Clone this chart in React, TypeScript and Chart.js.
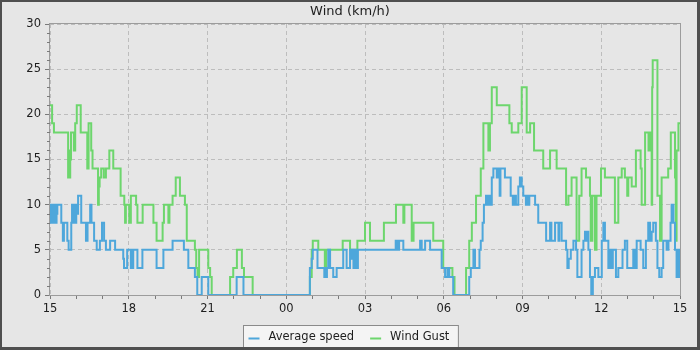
import React, { useEffect, useRef } from 'react';
import { Chart, registerables } from 'chart.js';

Chart.register(...registerables);

// Hours after 15:00 at which the value changes -> [hour, km/h]
const averageSpeedSteps: [number, number][] = [
  [0, 10], [0.03, 8], [0.06, 10], [0.09, 8], [0.12, 10], [0.15, 8], [0.19, 10], [0.22, 8], [0.25, 9], [0.28, 10],
  [0.43, 8], [0.49, 6], [0.53, 8], [0.66, 6], [0.71, 5], [0.81, 8], [0.84, 10], [0.88, 8], [0.92, 10], [0.96, 8],
  [1.0, 10], [1.04, 9], [1.07, 11], [1.19, 8], [1.37, 6], [1.43, 8], [1.53, 10], [1.58, 8], [1.68, 6], [1.78, 5],
  [1.9, 6], [1.98, 8], [2.06, 6], [2.13, 5], [2.29, 6], [2.48, 5], [2.79, 4], [2.82, 3], [2.94, 5], [3.08, 3],
  [3.1, 5], [3.15, 3], [3.17, 5], [3.33, 3], [3.52, 5], [4.06, 3], [4.32, 5], [4.67, 6], [5.1, 5], [5.27, 3],
  [5.52, 2], [5.61, 0], [5.78, 2], [6.03, 0], [7.11, 2], [7.37, 0], [9.9, 3], [9.97, 4], [10.01, 5], [10.19, 3],
  [10.45, 2], [10.48, 3], [10.52, 2], [10.55, 3], [10.6, 5], [10.67, 3], [10.79, 2], [10.92, 3], [11.17, 5], [11.3, 3],
  [11.43, 5], [11.47, 4], [11.5, 5], [11.56, 3], [11.62, 5], [11.64, 3], [11.66, 5], [11.7, 3], [11.73, 5], [13.17, 6],
  [13.2, 5], [13.23, 6], [13.27, 5], [13.3, 6], [13.46, 5], [14.1, 6], [14.16, 5], [14.29, 6], [14.48, 5], [14.92, 3],
  [15.05, 2], [15.14, 3], [15.21, 2], [15.36, 0], [15.97, 2], [16.03, 3], [16.13, 5], [16.19, 3], [16.36, 5], [16.41, 6],
  [16.48, 8], [16.53, 10], [16.61, 11], [16.64, 10], [16.68, 11], [16.72, 10], [16.76, 11], [16.8, 10], [16.83, 13], [16.89, 14],
  [17.02, 13], [17.08, 14], [17.13, 11], [17.16, 14], [17.33, 13], [17.55, 11], [17.63, 10], [17.68, 11], [17.75, 10], [17.84, 12],
  [17.9, 13], [17.97, 12], [18.03, 11], [18.13, 10], [18.17, 11], [18.22, 10], [18.26, 11], [18.48, 10], [18.6, 8], [18.9, 6],
  [19.05, 8], [19.1, 6], [19.24, 8], [19.37, 6], [19.4, 8], [19.49, 6], [19.66, 5], [19.71, 3], [19.76, 4], [19.84, 5],
  [19.94, 6], [20.04, 5], [20.09, 2], [20.25, 5], [20.32, 6], [20.38, 7], [20.42, 6], [20.46, 7], [20.51, 5], [20.57, 2],
  [20.62, 0], [20.68, 2], [20.76, 3], [20.89, 2], [21.02, 6], [21.08, 8], [21.14, 6], [21.27, 3], [21.33, 5], [21.4, 3],
  [21.44, 5], [21.56, 2], [21.65, 3], [21.81, 5], [21.9, 6], [21.99, 3], [22.22, 5], [22.29, 3], [22.35, 6], [22.5, 5],
  [22.6, 3], [22.7, 6], [22.79, 8], [22.86, 6], [22.92, 7], [22.98, 8], [23.08, 6], [23.14, 3], [23.21, 2], [23.3, 3],
  [23.36, 6], [23.49, 5], [23.56, 6], [23.64, 8], [23.68, 10], [23.75, 8], [23.81, 5], [23.87, 2], [23.94, 5], [23.97, 2],
  [24, 2],
];

const windGustSteps: [number, number][] = [
  [0, 21], [0.08, 19], [0.15, 18], [0.69, 13], [0.72, 16], [0.74, 13], [0.77, 15], [0.8, 18], [0.91, 16], [0.96, 19],
  [1.02, 21], [1.17, 18], [1.42, 14], [1.47, 19], [1.57, 16], [1.62, 14], [1.83, 10], [1.86, 12], [1.89, 13], [1.95, 14],
  [2.05, 13], [2.13, 14], [2.26, 16], [2.41, 14], [2.69, 11], [2.83, 10], [2.86, 8], [2.89, 10], [3.02, 8], [3.08, 11],
  [3.28, 10], [3.33, 8], [3.53, 10], [3.94, 8], [4.06, 6], [4.29, 8], [4.34, 10], [4.51, 8], [4.55, 10], [4.67, 11],
  [4.79, 13], [4.95, 11], [5.14, 10], [5.21, 6], [5.52, 5], [5.57, 3], [5.62, 2], [5.68, 5], [6.03, 3], [6.1, 2],
  [6.16, 0], [6.86, 2], [6.98, 3], [7.12, 5], [7.31, 3], [7.39, 2], [7.72, 0], [9.9, 2], [9.97, 5], [10.01, 6],
  [10.22, 5], [10.47, 3], [10.52, 5], [11.15, 6], [11.43, 5], [11.6, 3], [11.64, 5], [11.71, 6], [12.0, 8], [12.19, 6],
  [12.72, 8], [13.18, 10], [13.46, 8], [13.5, 10], [13.78, 6], [13.85, 8], [14.6, 6], [14.98, 3], [15.33, 2], [15.41, 0],
  [15.85, 3], [15.97, 6], [16.07, 8], [16.23, 11], [16.41, 14], [16.51, 19], [16.7, 16], [16.76, 19], [16.83, 23], [17.02, 21],
  [17.5, 19], [17.59, 18], [17.84, 19], [17.97, 23], [18.16, 18], [18.29, 19], [18.44, 16], [18.79, 14], [19.05, 16], [19.3, 14],
  [19.66, 10], [19.75, 11], [19.87, 13], [20.06, 6], [20.16, 11], [20.25, 14], [20.42, 13], [20.57, 11], [20.6, 6], [20.66, 11],
  [20.76, 5], [20.82, 11], [20.99, 14], [21.14, 13], [21.52, 8], [21.65, 13], [21.78, 14], [21.9, 13], [21.99, 11], [22.03, 13],
  [22.16, 12], [22.32, 16], [22.5, 14], [22.54, 10], [22.67, 18], [22.8, 16], [22.86, 18], [22.92, 10], [22.94, 23], [22.96, 26],
  [23.14, 11], [23.24, 6], [23.3, 13], [23.55, 14], [23.65, 18], [23.81, 13], [23.84, 6], [23.87, 16], [23.94, 19], [24, 19],
];

const seriesNames = ['Average speed', 'Wind Gust'];
const seriesColors = ['#4ea7db', '#6dd66d'];
const chartTitle = 'Wind (km/h)';
const xTickLabels = ['15', '18', '21', '00', '03', '06', '09', '12', '15'];
const yMax = 30;

const FONT = '"DejaVu Sans", Verdana, sans-serif';

const decorPlugin = {
  id: 'decor',
  beforeDraw(chart: any) {
    const { ctx, width, height } = chart;
    ctx.save();
    ctx.fillStyle = '#e6e6e6';
    ctx.fillRect(0, 0, width, height);
    ctx.restore();
  },
  beforeDatasetsDraw(chart: any) {
    const { ctx, chartArea: a } = chart;
    ctx.save();
    ctx.strokeStyle = '#9c9c9c';
    ctx.lineWidth = 1;
    ctx.strokeRect(Math.round(a.left) - 0.5, Math.round(a.top) - 0.5, Math.round(a.right - a.left) + 1, Math.round(a.bottom - a.top) + 1);
    // minor y ticks
    const ys = chart.scales.y;
    ctx.strokeStyle = '#7a7a7a';
    ctx.beginPath();
    for (let v = 0; v <= yMax; v++) {
      if (v % 5 === 0) continue;
      const py = Math.round(ys.getPixelForValue(v)) + 0.5;
      ctx.moveTo(a.left - 3, py);
      ctx.lineTo(a.left, py);
    }
    ctx.stroke();
    ctx.restore();
  },
  afterDraw(chart: any) {
    const { ctx, width, height } = chart;
    ctx.save();
    // title
    ctx.fillStyle = '#1e1e1e';
    ctx.font = `13px ${FONT}`;
    ctx.textAlign = 'center';
    ctx.textBaseline = 'middle';
    ctx.fillText(chartTitle, width / 2, 11.5);
    // legend
    ctx.font = `11.5px ${FONT}`;
    const sw = 11, gapA = 9, gapB = 16, padL = 5;
    const w0 = ctx.measureText(seriesNames[0]).width;
    const w1 = ctx.measureText(seriesNames[1]).width;
    const boxW = padL + sw + gapA + w0 + gapB + sw + gapA + w1 + 9;
    const bx = Math.round(width / 2 - boxW / 2) + 0.5;
    const by = 325.5;
    ctx.fillStyle = '#f4f4f4';
    ctx.fillRect(bx, by, boxW, 30);
    ctx.strokeStyle = '#8a8a8a';
    ctx.lineWidth = 1;
    ctx.strokeRect(bx, by, boxW, 30);
    let x = bx + padL;
    const ty = 337.5;
    for (let i = 0; i < 2; i++) {
      ctx.strokeStyle = seriesColors[i];
      ctx.lineWidth = 2;
      ctx.beginPath();
      ctx.moveTo(x, ty + 1);
      ctx.lineTo(x + sw, ty + 1);
      ctx.stroke();
      x += sw + gapA;
      ctx.fillStyle = '#1e1e1e';
      ctx.textAlign = 'left';
      ctx.textBaseline = 'middle';
      ctx.fillText(seriesNames[i], x, ty);
      x += (i === 0 ? w0 : w1) + gapB;
    }
    // outer border
    ctx.fillStyle = '#4f4f4f';
    ctx.fillRect(0, 0, width, 2);
    ctx.fillRect(0, 0, 2, height);
    ctx.fillRect(width - 3, 0, 3, height);
    ctx.fillRect(0, height - 3, width, 3);
    ctx.restore();
  },
};

export default function App() {
  const canvasRef = useRef<HTMLCanvasElement | null>(null);

  useEffect(() => {
    if (!canvasRef.current) return;
    const gridColor = '#bdbdbd';
    const chart = new Chart(canvasRef.current, {
      type: 'line',
      data: {
        datasets: [
          {
            label: seriesNames[0],
            data: averageSpeedSteps.map(([t, v]) => ({ x: t, y: v })),
            borderColor: seriesColors[0],
            backgroundColor: seriesColors[0],
            borderWidth: 2,
            pointRadius: 0,
            stepped: 'before',
            fill: false,
          },
          {
            label: seriesNames[1],
            data: windGustSteps.map(([t, v]) => ({ x: t, y: v })),
            borderColor: seriesColors[1],
            backgroundColor: seriesColors[1],
            borderWidth: 2,
            pointRadius: 0,
            stepped: 'before',
            fill: false,
          },
        ],
      },
      options: {
        responsive: false,
        animation: false,
        devicePixelRatio: 1,
        layout: { padding: { top: 24, right: 20, bottom: 0, left: 0 } },
        plugins: {
          legend: { display: false },
          title: { display: false },
          tooltip: { enabled: false },
        },
        scales: {
          x: {
            type: 'linear',
            min: 0,
            max: 24,
            afterFit: (s: any) => { s.height = 55; },
            ticks: {
              stepSize: 1,
              autoSkip: false,
              maxRotation: 0,
              padding: 3,
              color: '#1e1e1e',
              font: { family: FONT, size: 11.5 },
              callback: (v: any) => (Number(v) % 3 === 0 ? xTickLabels[Number(v) / 3] : ''),
            },
            grid: {
              color: (c: any) => (c.tick && c.tick.value % 3 === 0 ? gridColor : 'rgba(0,0,0,0)'),
              tickColor: '#7a7a7a',
              tickLength: 4,
              lineWidth: 1,
            },
            border: { display: false, dash: [4, 3] },
          },
          y: {
            min: 0,
            max: yMax,
            afterFit: (s: any) => { s.width = 50; },
            ticks: {
              stepSize: 5,
              padding: 4,
              color: '#1e1e1e',
              font: { family: FONT, size: 11.5 },
            },
            grid: {
              color: gridColor,
              tickColor: '#7a7a7a',
              tickLength: 5,
              lineWidth: 1,
            },
            border: { display: false, dash: [4, 3] },
          },
        },
      },
      plugins: [decorPlugin],
    });
    return () => chart.destroy();
  }, []);

  return (
    <div style={{ position: 'fixed', left: 0, top: 0, width: 700, height: 350 }}>
      <canvas ref={canvasRef} width={700} height={350} style={{ display: 'block' }} />
    </div>
  );
}
